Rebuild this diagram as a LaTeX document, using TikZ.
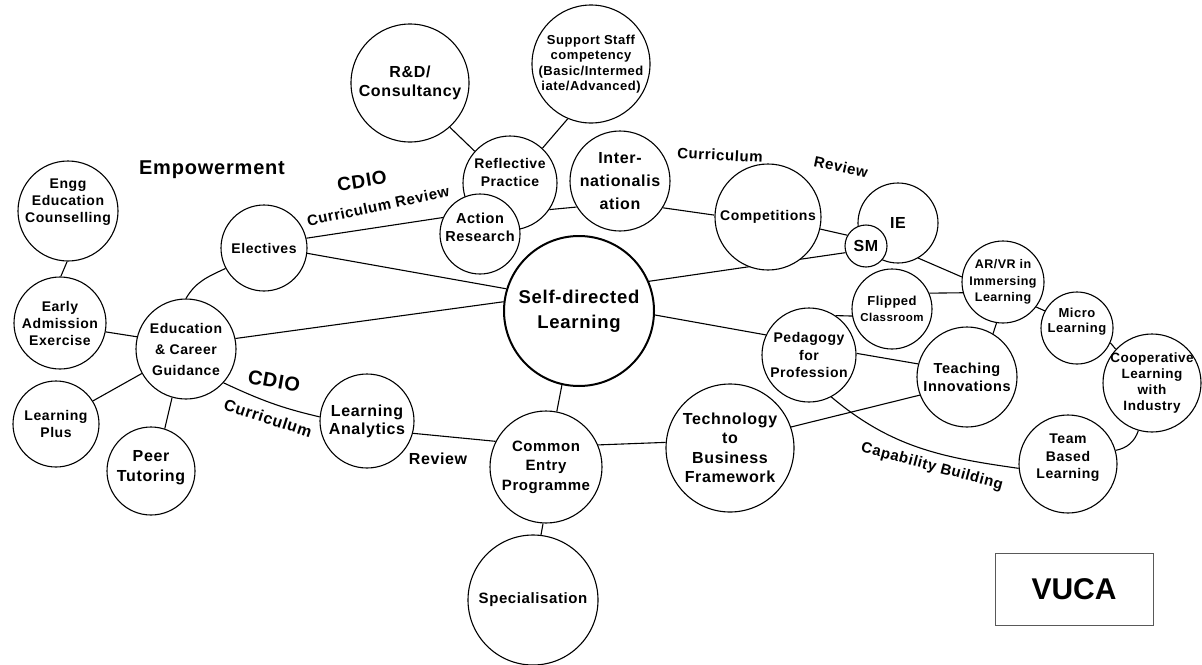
\documentclass[tikz,border=0pt]{standalone}
\usepackage{fontspec}
\setmainfont{Liberation Sans}[LetterSpace=4]
\newfontfamily\boxfont{Liberation Sans}
\usetikzlibrary{backgrounds}

\tikzset{
  bub/.style={circle, draw, fill=white, line width=1.1pt, inner sep=-12pt, align=center, minimum size=#1},
  fs/.style 2 args={font=\bfseries\fontsize{#1}{#2}\selectfont, align=center},
  conn/.style={line width=1.1pt}
}

\begin{document}
\begin{tikzpicture}[x=1pt, y=1pt]
    \useasboundingbox (0,0) rectangle (1202,-664);

    % Left cluster
    \node[bub=100, fs={14}{17}, text depth=21pt] (engg) at (68,-211) {Engg\\Education\\Counselling};
    \node[bub=92, fs={14}{17}] (early) at (60,-323) {Early\\Admission\\Exercise};
    \node[bub=100, fs={14}{21}] (edu) at (186,-349) {Education\\\& Career\\Guidance};
    \node[bub=86, fs={14}{17}] (plus) at (56,-424) {Learning\\Plus};
    \node[bub=88, fs={16}{20}, text depth=11pt] (peer) at (151,-471) {Peer\\Tutoring};
    \node[bub=86, fs={14}{17}] (elec) at (264,-248) {Electives};
    \node[bub=94, fs={16}{18}] (la) at (367,-421) {Learning\\Analytics};

    % Centre
    \node[bub=150, line width=2pt, fs={18.5}{25}] (sdl) at (579,-311) {Self-directed\\Learning};
    \node[bub=112, fs={15}{19.5}] (cep) at (546,-467) {Common\\Entry\\Programme};
    \node[bub=130, fs={15}{18}] (spec) at (533,-600) {Specialisation};
    \node[bub=128, fs={16}{19.5}] (tech) at (730,-448) {Technology\\to\\Business\\Framework};

    % Top
    \node[bub=118, fs={16}{19}] (rnd) at (410,-83) {R\&D/\\Consultancy};
    \node[bub=118, fs={13}{15.5}] (staff) at (591,-64) {Support Staff\\competency\\(Basic/Intermed\\iate/Advanced)};
    \node[bub=94, fs={14}{18}, text depth=21pt] (refl) at (510,-183) {Reflective\\Practice};
    \node[bub=80, fs={14.5}{18}, text depth=13pt] (ar) at (480,-234) {Action\\Research};
    \node[bub=100, fs={16}{23}] (intl) at (620,-181) {Inter-\\nationalis\\ation};
    \node[bub=106, fs={14}{17}] (comp) at (768,-217) {Competitions};
    \node[bub=80, fs={16}{19}] (ie) at (898,-223) {IE};
    \node[bub=42, fs={16}{19}] (sm) at (866,-246) {SM};

    % Right cluster
    \node[bub=94, fs={14}{17.5}] (ped) at (809,-355) {Pedagogy\\for\\Profession};
    \node[bub=80, fs={13}{16}] (flip) at (892,-309) {Flipped\\{\fontsize{11.5}{14}\selectfont Classroom}};
    \node[bub=100, fs={14.5}{18}] (ti) at (967,-377) {Teaching\\Innovations};
    \node[bub=82, fs={12.5}{16.5}] (arvr) at (1003,-282) {AR/VR in\\Immersing\\Learning};
    \node[bub=72, fs={13}{15.5}, text depth=15pt] (micro) at (1077,-328) {Micro\\Learning};
    \node[bub=98, fs={13.5}{16}] (coop) at (1152,-383) {Cooperative\\Learning\\with\\Industry};
    \node[bub=98, fs={14}{17.5}, text depth=15pt] (team) at (1068,-464) {Team\\Based\\Learning};

    % Labels
    \node[fs={20}{24}] (emp) at (212,-170) {Empowerment};
    \node[fs={19}{22}, rotate=9] (cdioa) at (362,-181) {CDIO};
    \node[fs={15}{18}, rotate=12] (crev) at (378,-206) {Curriculum Review};
    \node[fs={15}{18}, rotate=-3] (currb) at (720,-155) {Curriculum};
    \node[fs={15}{18}, rotate=-12] (revb) at (841,-167) {Review};
    \node[fs={20}{24}, rotate=-10] (cdioc) at (274,-381) {CDIO};
    \node[fs={16}{19}, rotate=-18] (currc) at (268,-418) {Curriculum};
    \node[fs={16}{19}] (revc) at (438,-459) {Review};
    \node[fs={15}{18}, rotate=-15] (cap) at (932,-467) {Capability Building};

    % VUCA
    \node[draw=black!65, line width=1pt, minimum width=158, minimum height=72,
          font=\boxfont\bfseries\fontsize{30}{36}\selectfont] (vuca) at (1074,-589) {VUCA};

    % Connectors
    \begin{pgfonlayer}{background}
        \draw[conn] (engg.-91) -- (early.89);
        \draw[conn] (early.-11) -- (edu.166);
        \draw[conn] (edu.209) -- (plus.32);
        \draw[conn] (edu.254) -- (peer.72);
        \draw[conn] (edu.90) to[out=60, in=205] (elec.208);
        \draw[conn] (elec.13) -- (ar.156);
        \draw[conn] (elec.-7) -- (sdl.163);
        \draw[conn] (edu.12) -- (sdl.173);
        \draw[conn] (edu.-42) to[out=-25, in=167] (la.175);
        \draw[conn] (la.-15) -- (cep.153);
        \draw[conn] (sdl.257) -- (cep.79);
        \draw[conn] (cep.-93) -- (spec.83);
        \draw[conn] (cep.23) -- (tech.175);
        \draw[conn] (tech.19) -- (ti.201);
        \draw[conn] (sdl.-3) -- (ped.155);
        \draw[conn] (sdl.23) -- (sm.198);
        \draw[conn] (ped.56) -- (flip.190);
        \draw[conn] (ped.2) -- (ti.165);
        \draw[conn] (ped.-62) to[out=-40, in=172] (team.185);
        \draw[conn] (flip.23) -- (arvr.195);
        \draw[conn] (arvr.-99) -- (ti.59);
        \draw[conn] (arvr.-37) -- (micro.152);
        \draw[conn] (micro.-24) -- (coop.137);
        \draw[conn] (coop.254) to[bend left=30] (team.16);
        \draw[conn] (ie.-60) -- (arvr.173);
        \draw[conn] (comp.-13) -- (sm.150);
        \draw[conn] (intl.-32) -- (comp.178);
        \draw[conn] (refl.-34) -- (intl.211);
        \draw[conn] (refl.138) -- (rnd.-48);
        \draw[conn] (refl.47) -- (staff.247);
    \end{pgfonlayer}
\end{tikzpicture}
\end{document}
